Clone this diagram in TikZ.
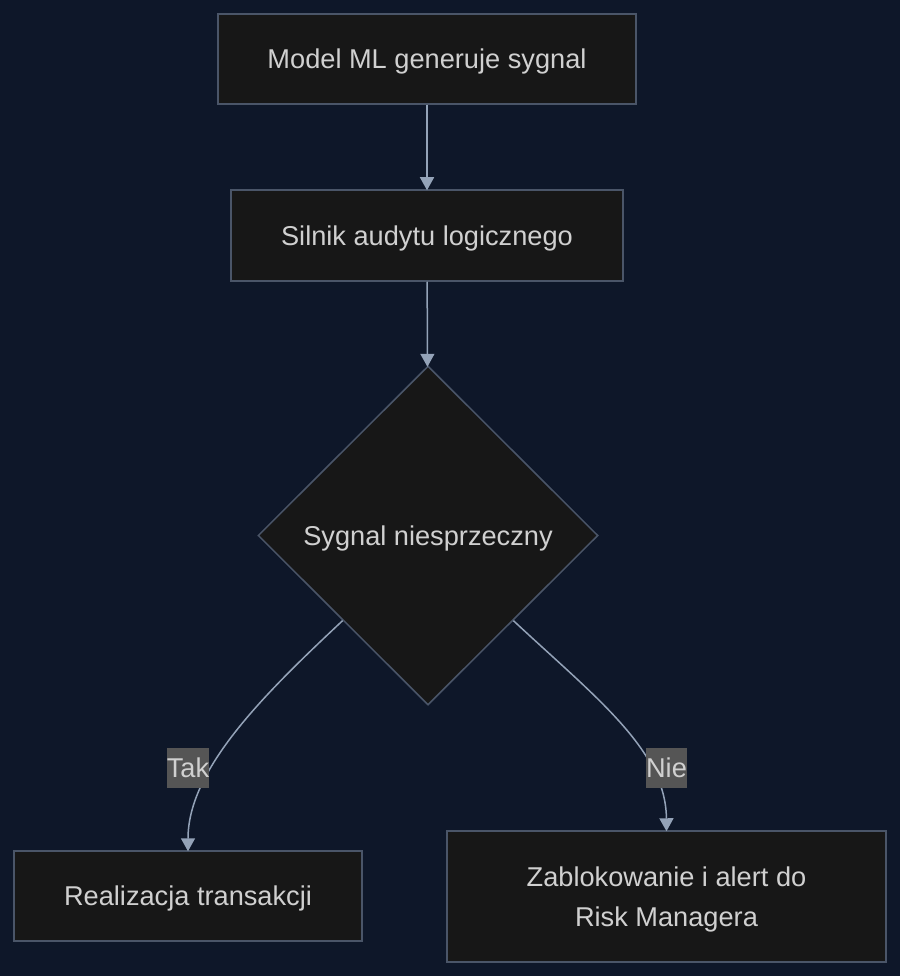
\documentclass[tikz,border=0pt]{standalone}
\usepackage{fontspec}
\setmainfont{Liberation Sans}
\usetikzlibrary{shapes.geometric,arrows.meta}
\definecolor{bgc}{HTML}{0E1729}
\definecolor{nodefill}{HTML}{171717}
\definecolor{nodeborder}{HTML}{4A5568}
\definecolor{edgec}{HTML}{94A3B8}
\definecolor{textc}{HTML}{D0D0D0}
\definecolor{labelbg}{HTML}{555555}
\tikzset{
  box/.style={draw=nodeborder, fill=nodefill, line width=1.5pt, text=textc, inner sep=0pt,
    font=\fontsize{27.2}{40}\selectfont, align=center, text depth=0pt},
  decision/.style={diamond, draw=nodeborder, fill=nodefill, line width=1.5pt, text=textc, inner sep=0pt,
    font=\fontsize{27.2}{40}\selectfont, minimum width=340pt, minimum height=339pt, text depth=0pt},
  conn/.style={draw=edgec, line width=1.5pt, shorten >=-1pt, -{Triangle[width=14pt,length=13pt]}},
  elabel/.style={fill=labelbg, text=textc, inner sep=0pt, minimum height=40pt, minimum width=42pt,
    font=\fontsize{27.2}{32}\selectfont}
}
\begin{document}
\begin{tikzpicture}[x=1pt,y=-1pt]
\fill[bgc] (0,0) rectangle (900,976);
\useasboundingbox (0,0) rectangle (900,976);
\node[box, minimum width=418pt, minimum height=90pt] (A) at (427,59) {Model ML generuje sygnal};
\node[box, minimum width=392pt, minimum height=91pt] (B) at (427,235.5) {Silnik audytu logicznego};
\node[decision] (C) at (428,535.5) {Sygnal niesprzeczny};
\node[box, minimum width=348pt, minimum height=90pt] (D) at (188,896) {Realizacja transakcji};
\node[box, minimum width=439pt, minimum height=131pt] (E) at (666.5,896.5) {Zablokowanie i alert do\\Risk Managera};
\draw[conn] (A) -- (B);
\draw[conn] (B) -- (C);
\draw[conn] (C.south west) .. controls (262,696) and (188,770) .. (D.north);
\draw[conn] (C.south east) .. controls (594,696) and (666,750) .. (E.north);
\node[elabel] (L1) at (188,767.5) {Tak};
\node[elabel, minimum width=41pt] (L2) at (666.5,767.5) {Nie};
\end{tikzpicture}
\end{document}
